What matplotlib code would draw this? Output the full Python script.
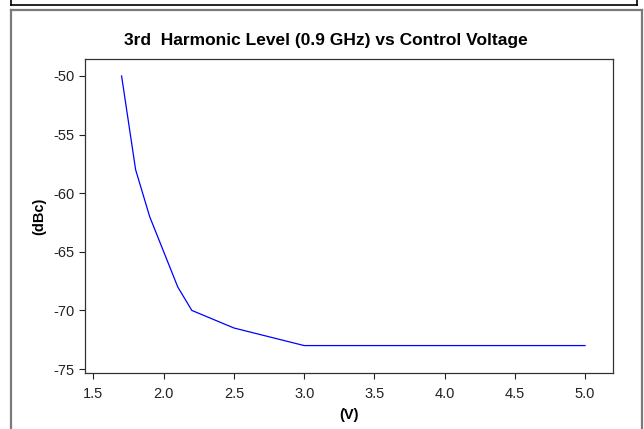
import numpy as np
import matplotlib.pyplot as plt
from matplotlib.lines import Line2D

plt.rcParams['font.family'] = ['Liberation Sans', 'DejaVu Sans']
plt.rcParams['axes.unicode_minus'] = False

# control voltage (V) and 3rd harmonic level (dBc)
volts = [1.7, 1.8, 1.9, 2.0, 2.1, 2.2, 2.5, 3.0, 5.0]
level = [-50, -58, -62, -65, -68, -70, -71.5, -73, -73]
xticks = [1.5, 2.0, 2.5, 3.0, 3.5, 4.0, 4.5, 5.0]
yticks = [-50, -55, -60, -65, -70, -75]

W, H = 644, 429
fig = plt.figure(figsize=(W / 100, H / 100), dpi=100)
ax = fig.add_axes([85 / W, 1 - 373 / H, (613 - 85) / W, (373 - 59) / H])

ax.plot(volts, level, color='#0000ff', lw=0.9)
ax.set_xlim(1.4395, 5.199)
ax.set_ylim(-75.34, -48.55)
ax.set_xticks(xticks)
ax.set_xticklabels([f"{v:.1f}" for v in xticks])
ax.set_yticks(yticks)
ax.tick_params(direction='out', length=4, width=0.8, labelsize=10.5, colors='#222222')
ax.tick_params(axis='x', pad=6)
for s in ax.spines.values():
    s.set_linewidth(0.9)
    s.set_color('#333333')

ax.set_title("3rd  Harmonic Level (0.9 GHz) vs Control Voltage",
             fontsize=12.5, fontweight='bold', pad=10, x=(326 - 85) / (613 - 85))
ax.set_xlabel("(V)", fontsize=10.5, fontweight='bold', labelpad=5)
ax.set_ylabel("(dBc)", fontsize=10.5, fontweight='bold', labelpad=5)

# outer frames
def hline(y, x0, x1, **kw):
    fig.add_artist(Line2D([x0 / W, x1 / W], [1 - y / H, 1 - y / H], **kw))

def vline(x, y0, y1, **kw):
    fig.add_artist(Line2D([x / W, x / W], [1 - y0 / H, 1 - y1 / H], **kw))

top = dict(color='black', lw=1.2)
hline(4.5, 11, 637, **top)
vline(11, -2, 4.5, **top)
vline(637, -2, 4.5, **top)

box = dict(color='#7a7a7a', lw=1.6)
hline(9.5, 11, 642, **box)
vline(11, 9.5, 431, **box)
vline(642, 9.5, 431, **box)

fig.savefig("out.png", dpi=100)
